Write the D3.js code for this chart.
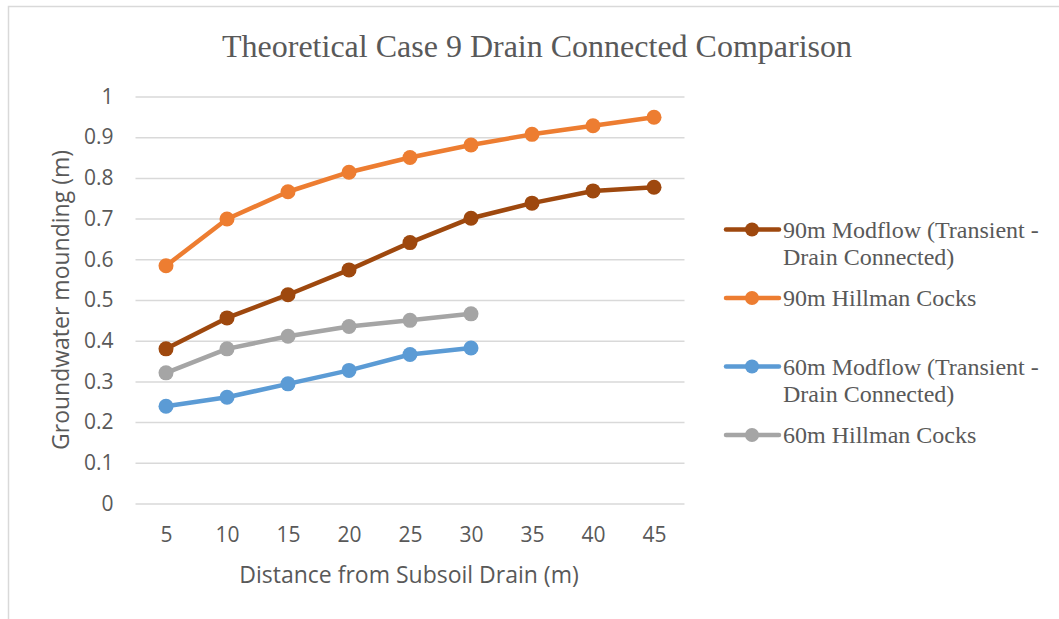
<!DOCTYPE html>
<html>
<head>
<meta charset="utf-8">
<script src="https://cdn.jsdelivr.net/npm/d3@7"></script>
<style>
  html, body { margin: 0; padding: 0; background: #fff; }
  svg { display: block; }
</style>
</head>
<body>
<svg id="chart" width="1059" height="619"></svg>
<script>
// Distances from the subsoil drain (m)
const distances = [5, 10, 15, 20, 25, 30, 35, 40, 45];
const yTicks = [0, 0.1, 0.2, 0.3, 0.4, 0.5, 0.6, 0.7, 0.8, 0.9, 1];

// Groundwater mounding (m) for each model run
const modflow90 = [0.380, 0.456, 0.513, 0.574, 0.641, 0.701, 0.738, 0.768, 0.777];
const hillman90 = [0.584, 0.699, 0.766, 0.814, 0.850, 0.881, 0.907, 0.928, 0.949];
const modflow60 = [0.239, 0.261, 0.294, 0.327, 0.366, 0.382];
const hillman60 = [0.321, 0.380, 0.411, 0.435, 0.450, 0.466];

const seriesNames = [
  ["90m Modflow (Transient -", "Drain Connected)"],
  ["90m Hillman Cocks"],
  ["60m Modflow (Transient -", "Drain Connected)"],
  ["60m Hillman Cocks"]
];
const seriesColors = ["#9E480E", "#ED7D31", "#5B9BD5", "#A5A5A5"];
const seriesValues = [modflow90, hillman90, modflow60, hillman60];

const series = seriesValues.map((vals, i) => ({
  name: seriesNames[i],
  color: seriesColors[i],
  points: vals.map((v, j) => ({ x: distances[j], y: v }))
}));

const svg = d3.select("#chart");
const textColor = "#595959";
const gridColor = "#d9d9d9";
const axisFont = "Open Sans, Liberation Sans, sans-serif";
const serifFont = "Liberation Serif, Times New Roman, serif";

// Outer chart frame (top and left edges)
svg.append("path")
  .attr("d", "M8.5,619 L8.5,6.5 L1059,6.5")
  .attr("fill", "none")
  .attr("stroke", gridColor)
  .attr("stroke-width", 1.5);

const plot = { left: 135.5, right: 684.5, top: 96.5, bottom: 503.5 };

const x = d3.scalePoint()
  .domain(distances)
  .range([plot.left, plot.right])
  .padding(0.5);

const y = d3.scaleLinear()
  .domain([0, 1])
  .range([plot.bottom, plot.top]);

// Horizontal gridlines with value labels
const yAxis = d3.axisLeft(y)
  .tickValues(yTicks)
  .tickSize(-(plot.right - plot.left))
  .tickPadding(22)
  .tickFormat(d3.format("~g"));

const gy = svg.append("g")
  .attr("transform", `translate(${plot.left},0)`)
  .call(yAxis);
gy.select(".domain").remove();
gy.selectAll(".tick line")
  .attr("stroke", gridColor)
  .attr("stroke-width", 1.5);
gy.selectAll(".tick text")
  .attr("fill", textColor)
  .attr("font-family", axisFont)
  .attr("font-size", 21);

// Category labels along the bottom
const xAxis = d3.axisBottom(x).tickSize(0).tickPadding(24);
const gx = svg.append("g")
  .attr("transform", `translate(0,${plot.bottom})`)
  .call(xAxis);
gx.select(".domain").remove();
gx.selectAll(".tick text")
  .attr("fill", textColor)
  .attr("font-family", axisFont)
  .attr("font-size", 21);

// Series lines and markers
const line = d3.line()
  .x(d => x(d.x))
  .y(d => y(d.y));

const gSeries = svg.append("g");
series.forEach(s => {
  gSeries.append("path")
    .datum(s.points)
    .attr("d", line)
    .attr("fill", "none")
    .attr("stroke", s.color)
    .attr("stroke-width", 4.5)
    .attr("stroke-linejoin", "round")
    .attr("stroke-linecap", "round");
  gSeries.selectAll(null)
    .data(s.points)
    .join("circle")
    .attr("cx", d => x(d.x))
    .attr("cy", d => y(d.y))
    .attr("r", 7.5)
    .attr("fill", s.color);
});

// Title
svg.append("text")
  .attr("x", 537)
  .attr("y", 46)
  .attr("dy", "0.35em")
  .attr("text-anchor", "middle")
  .attr("fill", textColor)
  .attr("font-family", serifFont)
  .attr("font-size", 32)
  .text("Theoretical Case 9 Drain Connected Comparison");

// Axis titles
svg.append("text")
  .attr("x", 409)
  .attr("y", 575)
  .attr("dy", "0.35em")
  .attr("text-anchor", "middle")
  .attr("fill", textColor)
  .attr("font-family", axisFont)
  .attr("font-size", 23)
  .text("Distance from Subsoil Drain (m)");

svg.append("text")
  .attr("transform", `translate(61,300) rotate(-90)`)
  .attr("dy", "0.35em")
  .attr("text-anchor", "middle")
  .attr("fill", textColor)
  .attr("font-family", axisFont)
  .attr("font-size", 23)
  .text("Groundwater mounding (m)");

// Legend
const legendRows = [229.5, 298, 366.5, 435];
const legend = svg.append("g");
series.forEach((s, i) => {
  const g = legend.append("g").attr("transform", `translate(0,${legendRows[i]})`);
  g.append("line")
    .attr("x1", 726).attr("x2", 779)
    .attr("y1", 0).attr("y2", 0)
    .attr("stroke", s.color)
    .attr("stroke-width", 4.5)
    .attr("stroke-linecap", "round");
  g.append("circle")
    .attr("cx", 752).attr("cy", 0).attr("r", 7)
    .attr("fill", s.color);
  const t = g.append("text")
    .attr("x", 783)
    .attr("fill", textColor)
    .attr("font-family", serifFont)
    .attr("font-size", 24);
  s.name.forEach((ln, k) => {
    t.append("tspan")
      .attr("x", 783)
      .attr("y", k * 27)
      .attr("dy", "0.35em")
      .text(ln);
  });
});
</script>
</body>
</html>
